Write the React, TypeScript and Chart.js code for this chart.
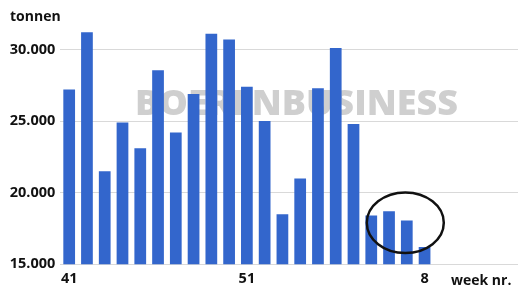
import React, { useEffect, useRef } from "react";
import { Chart, registerables } from "chart.js";

Chart.register(...registerables);

const weeks = ["41","42","43","44","45","46","47","48","49","50","51","52","53","1","2","3","4","5","6","7","8","9","10","11","12","13"];
const tonnes = [27200, 31200, 21500, 24900, 23100, 28550, 24200, 26900, 31100, 30700, 27400, 25000, 18500, 21000, 27300, 30100, 24800, 18400, 18700, 18050, 16200, null, null, null, null, null];
const yTicks = [15000, 20000, 25000, 30000];
const yTitle = "tonnen";
const xTitle = "week nr.";
const watermark = "BOERENBUSINESS";

const FONT = "'Open Sans', Lato, sans-serif";

const overlay = {
  id: "overlay",
  beforeDatasetsDraw(chart: any) {
    const ctx = chart.ctx;
    ctx.save();
    ctx.font = `800 35px ${FONT}`;
    const w = ctx.measureText(watermark).width;
    const target = 323;
    ctx.translate(135, 115);
    ctx.scale(target / w, 1);
    ctx.fillStyle = "#cfcfcf";
    ctx.textBaseline = "alphabetic";
    ctx.fillText(watermark, 0, 0);
    ctx.restore();
  },
  afterDatasetsDraw(chart: any) {
    const ctx = chart.ctx;
    const xs = chart.scales.x;
    const ys = chart.scales.y;
    const cx = xs.getPixelForValue(19) - 1.5;
    const cy = ys.getPixelForValue(17900);
    ctx.save();
    ctx.beginPath();
    ctx.ellipse(cx, cy, 38.5, 30.3, 0, 0, Math.PI * 2);
    ctx.lineWidth = 2.5;
    ctx.strokeStyle = "#111111";
    ctx.stroke();
    ctx.restore();
  },
  afterDraw(chart: any) {
    const ctx = chart.ctx;
    ctx.save();
    ctx.fillStyle = "#111111";
    ctx.textBaseline = "middle";
    ctx.textAlign = "left";
    ctx.font = `bold 14px ${FONT}`;
    ctx.fillText(yTitle, 10, 17);
    ctx.fillText(xTitle, 451, 281);
    ctx.restore();
  },
};

export default function App() {
  const ref = useRef<HTMLCanvasElement>(null);
  useEffect(() => {
    if (!ref.current) return;
    const chart = new Chart(ref.current, {
      type: "bar",
      data: {
        labels: weeks,
        datasets: [
          {
            data: tonnes as any,
            backgroundColor: "#3366cc",
            barPercentage: 0.66,
            categoryPercentage: 1,
          },
        ],
      },
      options: {
        responsive: false,
        animation: false,
        devicePixelRatio: 1,
        layout: { padding: { top: 0, left: 0, right: 1.7, bottom: 0 } },
        plugins: { legend: { display: false }, tooltip: { enabled: false }, title: { display: false } },
        scales: {
          x: {
            grid: { display: false, drawTicks: false },
            border: { display: false },
            ticks: {
              autoSkip: false,
              maxRotation: 0,
              padding: 6,
              color: "#111111",
              font: { family: FONT, size: 14.5, weight: "bold" },
              callback: (_v: any, i: number) => (i % 10 === 0 ? weeks[i] : ""),
            },
            afterFit: (s: any) => {
              s.height = 21.7;
            },
          },
          y: {
            min: 15000,
            max: 32500,
            afterBuildTicks: (s: any) => {
              s.ticks = yTicks.map((v) => ({ value: v }));
            },
            grid: { color: "#d9d9d9", drawTicks: false, lineWidth: 1 },
            border: { display: false },
            ticks: {
              padding: 5,
              color: "#111111",
              font: { family: FONT, size: 14.5, weight: "bold" },
              callback: (v: any) => Number(v).toLocaleString("de-DE", { minimumFractionDigits: 0 }).replace(/,/g, "."),
            },
            afterFit: (s: any) => {
              s.width = 60.3;
            },
          },
        },
      },
      plugins: [overlay],
    });
    return () => chart.destroy();
  }, []);
  return (
    <div style={{ position: "absolute", left: 0, top: 0, width: 518, height: 286, overflow: "hidden", background: "#fff" }}>
      <canvas ref={ref} width={524} height={286} style={{ display: "block" }} />
    </div>
  );
}
